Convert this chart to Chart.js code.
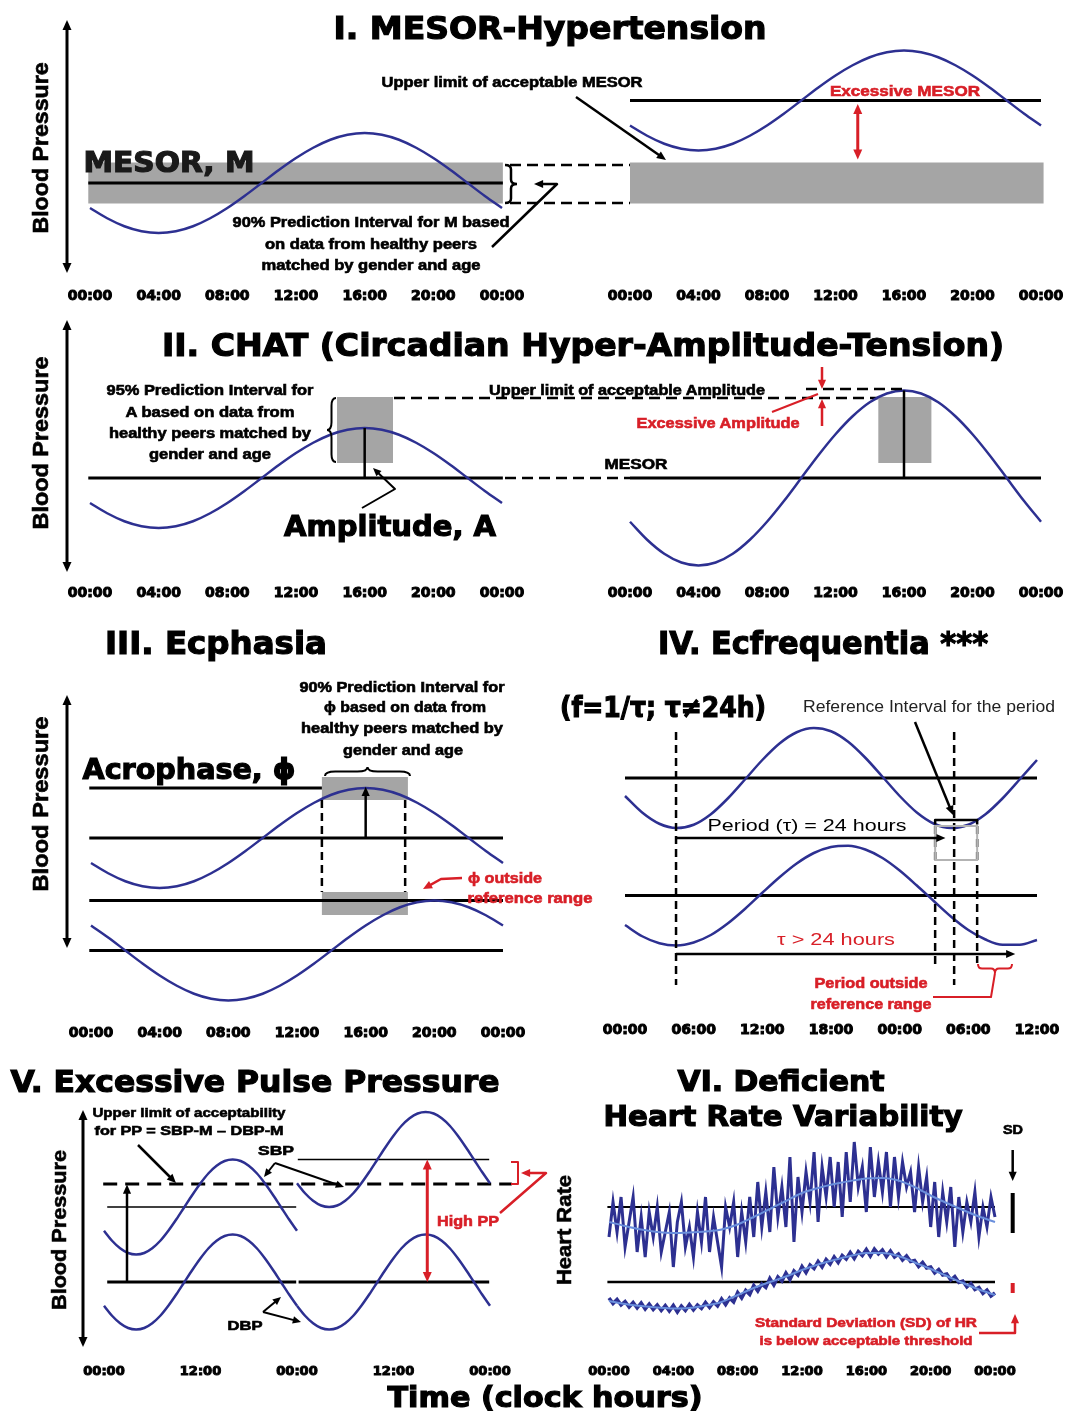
<!DOCTYPE html>
<html>
<head>
<meta charset="utf-8">
<title>Chronobiologic risk patterns</title>
<script src="https://cdn.jsdelivr.net/npm/chart.js@4.4.1/dist/chart.umd.min.js"></script>
<style>
  body { margin: 0; background: #fff; }
  #page { position: relative; width: 1068px; height: 1416px; overflow: hidden; background: #fff; }
  #page canvas { position: absolute; left: 0; top: 0; }
  .t { position: absolute; white-space: nowrap; font-weight: bold; line-height: 1; color: #000; }
</style>
</head>
<body>
<div id="page"></div>
<script>
// time grids, clock hours
const hours = [0, 1, 2, 3, 4, 5, 6, 7, 8, 9, 10, 11, 12, 13, 14, 15, 16, 17, 18, 19, 20, 21, 22, 23, 24];
const hoursDay2 = [24, 25, 26, 27, 28, 29, 30, 31, 32, 33, 34, 35, 36, 37, 38, 39, 40, 41, 42, 43, 44, 45, 46, 47, 48];
const hours36 = [0, 1.5, 3, 4.5, 6, 7.5, 9, 10.5, 12, 13.5, 15, 16.5, 18, 19.5, 21, 22.5, 24, 25.5, 27, 28.5, 30, 31.5, 33, 34.5, 36];
const quarterHours = Array.from({ length: 97 }, (_, i) => i / 4);

// I. MESOR-hypertension (mmHg)
const mesorOk = [110, 105.9, 102.7, 100.7, 100, 100.7, 102.7, 105.9, 110, 114.8, 120, 125.2, 130, 134.1, 137.3, 139.3, 140, 139.3, 137.3, 134.1, 130, 125.2, 120, 114.8, 110];
const mesorHigh = [143, 138.9, 135.7, 133.7, 133, 133.7, 135.7, 138.9, 143, 147.8, 153, 158.2, 163, 167.1, 170.3, 172.3, 173, 172.3, 170.3, 167.1, 163, 158.2, 153, 147.8, 143];
const mesorLevel = 120, mesorLimit = 153;
const mesorBand = [111.8, 128.2];

// II. CHAT
const ampOk = [110, 105.9, 102.7, 100.7, 100, 100.7, 102.7, 105.9, 110, 114.8, 120, 125.2, 130, 134.1, 137.3, 139.3, 140, 139.3, 137.3, 134.1, 130, 125.2, 120, 114.8, 110];
const ampHigh = [102.5, 95.3, 89.7, 86.2, 85, 86.2, 89.7, 95.3, 102.5, 110.9, 120, 129.1, 137.5, 144.7, 150.3, 153.8, 155, 153.8, 150.3, 144.7, 137.5, 129.1, 120, 110.9, 102.5];
const ampBand = [126, 152.4];

// III. Ecphasia
const phaseOk = [110, 105.9, 102.7, 100.7, 100, 100.7, 102.7, 105.9, 110, 114.8, 120, 125.2, 130, 134.1, 137.3, 139.3, 140, 139.3, 137.3, 134.1, 130, 125.2, 120, 114.8, 110];
const phaseLate = [85, 80.2, 75, 69.8, 65, 60.9, 57.7, 55.7, 55, 55.7, 57.7, 60.9, 65, 69.8, 75, 80.2, 85, 89.1, 92.3, 94.3, 95, 94.3, 92.3, 89.1, 85];
const phaseLevels = [140, 120, 95, 75];
const phaseWindow = [13.45, 18.46];

// IV. Ecfrequentia
const tau24 = [112.8, 106.2, 101.7, 100.0, 101.3, 105.5, 111.9, 119.5, 127.2, 133.8, 138.3, 140.0, 138.7, 134.5, 128.1, 120.5, 112.8, 106.2, 101.7, 100.0, 101.3, 105.5, 111.9, 119.5, 127.2];
const tauLong = [61.2, 56.7, 53.9, 53.0, 54.2, 57.2, 61.9, 67.7, 74.1, 80.3, 85.8, 90.0, 92.4, 92.9, 91.4, 88.0, 83.0, 77.0, 70.7, 64.5, 59.2, 55.4, 53.3, 53.3, 55.2];
const tauLevels = [120, 73];
const tauWindow = [27.1, 30.77];

// V. Excessive pulse pressure
const sbpOk = [110.5, 106.5, 103.5, 101.6, 101, 101.6, 103.5, 106.5, 110.5, 115.1, 120, 124.9, 129.5, 133.5, 136.5, 138.4, 139, 138.4, 136.5, 133.5, 129.5, 124.9, 120, 115.1, 110.5];
const dbpOk = [80.5, 76.5, 73.5, 71.6, 71, 71.6, 73.5, 76.5, 80.5, 85.1, 90, 94.9, 99.5, 103.5, 106.5, 108.4, 109, 108.4, 106.5, 103.5, 99.5, 94.9, 90, 85.1, 80.5];
const sbpHigh = [129.5, 125.5, 122.5, 120.6, 120, 120.6, 122.5, 125.5, 129.5, 134.1, 139, 143.9, 148.5, 152.5, 155.5, 157.4, 158, 157.4, 155.5, 152.5, 148.5, 143.9, 139, 134.1, 129.5];
const dbpHigh = [80.5, 76.5, 73.5, 71.6, 71, 71.6, 73.5, 76.5, 80.5, 85.1, 90, 94.9, 99.5, 103.5, 106.5, 108.4, 109, 108.4, 106.5, 103.5, 99.5, 94.9, 90, 85.1, 80.5];
const ppLimit = 129.2;

// VI. Heart rate (beats/min)
const hrNormal = [74, 81, 75, 82, 72, 77, 82, 71, 78, 70, 79, 74, 80, 71, 75, 79, 68, 77, 81, 72, 76, 70, 79, 73,
  82, 71, 78, 73, 68, 80, 76, 81, 70, 79, 73, 82, 74, 85, 76, 83, 75, 88, 78, 84, 76, 90, 73, 86,
  79, 87, 81, 91, 77, 88, 82, 90, 80, 89, 78, 91, 81, 93, 84, 88, 79, 92, 82, 89, 83, 91, 80, 90,
  82, 89, 84, 87, 79, 88, 81, 86, 76, 85, 74, 83, 77, 84, 72, 82, 75, 81, 77, 83, 74, 80, 76, 82, 78];
const hrLow = [61.8, 60.7, 61.5, 60.4, 61.1, 60.0, 60.9, 59.8, 60.8, 59.6, 60.6, 59.5, 60.4, 59.3, 60.3, 59.2,
  60.3, 59.0, 60.2, 59.3, 60.5, 59.4, 60.4, 59.7, 60.9, 59.9, 61.0, 60.2, 61.6, 60.5, 61.8, 61.0,
  62.9, 61.8, 63.3, 62.5, 64.3, 63.2, 64.6, 63.9, 65.7, 64.4, 66.0, 65.2, 66.8, 65.5, 67.2, 66.4,
  68.1, 66.9, 68.4, 67.7, 69.1, 68.0, 69.5, 68.6, 70.0, 68.9, 70.3, 69.6, 70.9, 69.7, 71.1, 70.3,
  71.5, 70.2, 71.6, 70.6, 71.4, 70.1, 71.2, 70.0, 70.6, 69.4, 70.2, 69.1, 69.3, 68.1, 68.9, 67.8,
  68.0, 66.8, 67.5, 66.4, 66.6, 65.4, 66.1, 64.9, 65.2, 64.0, 64.7, 63.5, 63.9, 62.7, 63.4, 62.2, 62.8];
const hrNormalTrend = [77.0, 76.2, 75.5, 75.0, 74.8, 74.9, 75.1, 75.5, 76.5, 78.0, 79.6, 81.2, 82.8, 83.8, 84.6, 85.2, 85.7, 85.8, 85.3, 84.0, 82.3, 80.8, 79.4, 78.1, 77.0];
const hrLowTrend = [61.2, 60.6, 60.2, 59.9, 59.7, 59.8, 60.3, 61.0, 62.4, 63.8, 65.0, 66.1, 67.4, 68.5, 69.4, 70.2, 70.8, 70.8, 70.2, 68.9, 67.6, 66.2, 64.8, 63.5, 62.4];
const hrLevels = [80, 65];
const sdNormal = [74.8, 82.8], sdLow = [62.8, 64.8];

const W = 1068, H = 1416;
const page = document.getElementById('page');
const NAVY = '#2d3091', RED = '#d81f27', BAND = '#a5a5a5', TREND = '#6a8fdc';
const TITLE = '"DejaVu Sans", sans-serif';
const NOTE = '"Liberation Sans", Arial, sans-serif';

const pairs = (xs, ys) => xs.map((x, i) => ({ x: x, y: ys[i] }));
const clock = v => String(((v % 24) + 24) % 24).padStart(2, '0') + ':00';

function curve(xs, ys, color, width, extra) {
  return Object.assign({
    data: pairs(xs, ys), borderColor: color, borderWidth: width, pointRadius: 0,
    cubicInterpolationMode: 'monotone', fill: false, clip: false
  }, extra || {});
}
function level(t0, t1, v, width, extra) { return curve([t0, t1], [v, v], '#000', width, extra); }

// drawing helpers for the annotations
function P(c, t, v) { return [c.scales.x.getPixelForValue(t), c.scales.y.getPixelForValue(v)]; }
function stroke(ctx, pts, color, width, dash) {
  ctx.save();
  ctx.beginPath();
  ctx.strokeStyle = color; ctx.lineWidth = width; ctx.lineJoin = 'round';
  ctx.setLineDash(dash || []);
  pts.forEach((p, i) => i ? ctx.lineTo(p[0], p[1]) : ctx.moveTo(p[0], p[1]));
  ctx.stroke();
  ctx.restore();
}
function head(ctx, from, to, color, size) {
  const a = Math.atan2(to[1] - from[1], to[0] - from[0]);
  ctx.save();
  ctx.beginPath();
  ctx.moveTo(to[0], to[1]);
  ctx.lineTo(to[0] - size * Math.cos(a - 0.42), to[1] - size * Math.sin(a - 0.42));
  ctx.lineTo(to[0] - size * Math.cos(a + 0.42), to[1] - size * Math.sin(a + 0.42));
  ctx.closePath();
  ctx.fillStyle = color; ctx.fill();
  ctx.restore();
}
function pull(from, to, d) {
  const L = Math.hypot(to[0] - from[0], to[1] - from[1]);
  return [to[0] - (to[0] - from[0]) * d / L, to[1] - (to[1] - from[1]) * d / L];
}
function arrow(ctx, pts, color, width, both) {
  const n = pts.length, s = 5 + width * 2;
  const line = pts.slice();
  line[n - 1] = pull(pts[n - 2], pts[n - 1], s * 0.6);
  if (both) line[0] = pull(pts[1], pts[0], s * 0.6);
  stroke(ctx, line, color, width);
  head(ctx, pts[n - 2], pts[n - 1], color, s);
  if (both) head(ctx, pts[1], pts[0], color, s);
}
function box(ctx, a, b, color) {
  ctx.fillStyle = color;
  ctx.fillRect(Math.min(a[0], b[0]), Math.min(a[1], b[1]), Math.abs(b[0] - a[0]), Math.abs(b[1] - a[1]));
}
function brace(ctx, a, b, d, color, width) {
  const dx = b[0] - a[0], dy = b[1] - a[1];
  const L = Math.hypot(dx, dy), ux = dx / L, uy = dy / L;
  const q = (f, m) => [a[0] + dx * f - uy * d * m, a[1] + dy * f + ux * d * m];
  const quad = (c, e) => ctx.quadraticCurveTo(c[0], c[1], e[0], e[1]);
  ctx.save();
  ctx.beginPath();
  ctx.strokeStyle = color; ctx.lineWidth = width;
  ctx.moveTo(a[0], a[1]);
  quad(q(0, 0.5), q(0.12, 0.5));
  ctx.lineTo(...q(0.38, 0.5));
  quad(q(0.5, 0.5), q(0.5, 1));
  quad(q(0.5, 0.5), q(0.62, 0.5));
  ctx.lineTo(...q(0.88, 0.5));
  quad(q(1, 0.5), q(1, 0));
  ctx.stroke();
  ctx.restore();
}

function makeChart(o) {
  const cv = document.createElement('canvas');
  cv.width = W; cv.height = H;
  page.appendChild(cv);
  const size = o.tickSize || 14;
  const bottom = o.labelY - size * 0.6;
  const k = o.k || 2.5;
  const yMax = o.ref[0] + (o.ref[1] - o.top) / k;
  const yMin = o.ref[0] - (bottom - o.ref[1]) / k;
  return new Chart(cv, {
    type: 'line',
    data: { datasets: o.datasets },
    options: {
      responsive: false, animation: false, devicePixelRatio: 1, events: [],
      layout: { padding: { left: o.x0, right: W - o.x1, top: o.top, bottom: H - bottom - 30 } },
      plugins: { legend: { display: false }, tooltip: { enabled: false } },
      scales: {
        x: {
          type: 'linear', min: o.t[0], max: o.t[1],
          grid: { display: false, drawTicks: false }, border: { display: false },
          afterFit: s => { s.height = 30; },
          ticks: {
            stepSize: o.t[2], padding: 0, autoSkip: false, maxRotation: 0, color: '#000',
            textStrokeColor: '#000', textStrokeWidth: 1,
            font: { family: TITLE, weight: 'bold', size: size }, callback: v => clock(v)
          }
        },
        y: { display: false, min: yMin, max: yMax }
      }
    },
    plugins: [{
      id: 'sketch',
      beforeDatasetsDraw(c) { if (o.under) o.under(c, c.ctx); },
      afterDatasetsDraw(c) { if (o.draw) o.draw(c, c.ctx); }
    }]
  });
}

// ---------- I. MESOR-Hypertension ----------
makeChart({
  x0: 90, x1: 502, labelY: 296, top: 20, ref: [120, 183], t: [0, 24, 4],
  datasets: [
    curve(hours, mesorOk, NAVY, 2.5),
    level(-0.1, 24.05, mesorLevel, 3)
  ],
  under(c, ctx) { box(ctx, P(c, -0.1, mesorBand[1]), P(c, 24.05, mesorBand[0]), BAND); },
  draw(c, ctx) {
    arrow(ctx, [[67, 273], [67, 20]], '#000', 3, true);
    brace(ctx, [505, 165], [505, 203], -12, '#000', 2.5);
    stroke(ctx, [[510, 165], [630, 165]], '#000', 2.5, [11, 6]);
    stroke(ctx, [[510, 203], [630, 203]], '#000', 2.5, [11, 6]);
    arrow(ctx, [[492, 247], [557, 184], [534, 184]], '#000', 2.5);
  }
});
makeChart({
  x0: 630, x1: 1041, labelY: 296, top: 20, ref: [120, 183], t: [0, 24, 4],
  datasets: [
    curve(hours, mesorHigh, NAVY, 2.5),
    level(0, 24, mesorLimit, 3)
  ],
  under(c, ctx) { box(ctx, P(c, 0, mesorBand[1]), P(c, 24.15, mesorBand[0]), BAND); },
  draw(c, ctx) {
    arrow(ctx, [P(c, 13.3, 151.6), P(c, 13.3, 129.4)], RED, 3, true);
    arrow(ctx, [[576, 97], [666, 160]], '#000', 2.5);
  }
});

// ---------- II. CHAT ----------
makeChart({
  x0: 90, x1: 502, labelY: 593, top: 318, ref: [120, 478], t: [0, 24, 4],
  datasets: [
    curve(hours, ampOk, NAVY, 2.5),
    level(-0.1, 24.05, 120, 3)
  ],
  under(c, ctx) { box(ctx, P(c, 14.39, ampBand[1]), P(c, 17.65, ampBand[0]), BAND); },
  draw(c, ctx) {
    arrow(ctx, [[67, 572], [67, 320]], '#000', 3, true);
    stroke(ctx, [P(c, 16, 140), P(c, 16, 120)], '#000', 2.5);
    arrow(ctx, [[362, 508], [395, 489], [373, 468]], '#000', 2);
    brace(ctx, [336, 398], [336, 462], 9, '#000', 2);
    stroke(ctx, [[394, 398], [878, 398]], '#000', 2.5, [11, 6]);
    stroke(ctx, [[505, 478], [630, 478]], '#000', 2.5, [11, 6]);
  }
});
makeChart({
  x0: 630, x1: 1041, labelY: 593, top: 318, ref: [120, 478], t: [0, 24, 4],
  datasets: [
    curve(hours, ampHigh, NAVY, 2.5),
    level(0, 24, 120, 3)
  ],
  under(c, ctx) { box(ctx, P(c, 14.5, ampBand[1]), P(c, 17.6, ampBand[0]), BAND); },
  draw(c, ctx) {
    stroke(ctx, [P(c, 16, 155), P(c, 16, 120)], '#000', 2.5);
    stroke(ctx, [[806, 389], [907, 389]], '#000', 2.5, [11, 6]);
    arrow(ctx, [[822, 367], [822, 389]], RED, 2.5);
    arrow(ctx, [[822, 426], [822, 399]], RED, 2.5);
    stroke(ctx, [[772, 412], [818, 394]], RED, 2);
  }
});

// ---------- III. Ecphasia ----------
makeChart({
  x0: 91, x1: 503, labelY: 1033, top: 690, ref: [120, 838], t: [0, 24, 4],
  datasets: [
    curve(hours, phaseOk, NAVY, 2.5),
    curve(hours, phaseLate, NAVY, 2.5),
    level(-0.1, phaseWindow[0], phaseLevels[0], 3),
    level(-0.1, 24, phaseLevels[1], 3),
    level(-0.1, 24, phaseLevels[2], 3),
    level(-0.1, 24, phaseLevels[3], 3)
  ],
  under(c, ctx) {
    box(ctx, P(c, phaseWindow[0], 144.4), P(c, phaseWindow[1], 135.2), BAND);
    box(ctx, P(c, phaseWindow[0], 98.4), P(c, phaseWindow[1], 89.2), BAND);
  },
  draw(c, ctx) {
    arrow(ctx, [[67, 948], [67, 695]], '#000', 3, true);
    arrow(ctx, [P(c, 16, 120), P(c, 16, 140.5)], '#000', 2.5);
    stroke(ctx, [P(c, phaseWindow[0], 135.2), P(c, phaseWindow[0], 98.4)], '#000', 2.5, [8, 5]);
    stroke(ctx, [P(c, 18.3, 135.2), P(c, 18.3, 98.4)], '#000', 2.5, [8, 5]);
    brace(ctx, [325, 776], [410, 776], -9, '#000', 2);
    arrow(ctx, [[462, 878], [441, 879], [423, 889]], RED, 2.5);
  }
});

// ---------- IV. Ecfrequentia ----------
makeChart({
  x0: 625, x1: 1037, labelY: 1030, top: 720, ref: [120, 778], t: [0, 36, 6],
  datasets: [
    curve(hours36, tau24, NAVY, 2.5),
    curve(hours36, tauLong, NAVY, 2.5),
    level(0, 36, tauLevels[0], 3),
    level(0, 36, tauLevels[1], 3)
  ],
  draw(c, ctx) {
    const dash = [8, 5];
    stroke(ctx, [P(c, 4.46, 138.4), P(c, 4.46, 37.2)], '#000', 2.5, dash);
    stroke(ctx, [P(c, 28.76, 138.4), P(c, 28.76, 37.2)], '#000', 2.5, dash);
    stroke(ctx, [P(c, tauWindow[0], 100.8), P(c, tauWindow[0], 44)], '#000', 2.5, dash);
    stroke(ctx, [P(c, tauWindow[1], 100.8), P(c, tauWindow[1], 46)], '#000', 2.5, dash);
    const a = P(c, tauWindow[0], 100.8), b = P(c, tauWindow[1], 87.2);
    ctx.save(); ctx.strokeStyle = '#b3b3b3'; ctx.lineWidth = 2;
    ctx.strokeRect(a[0], a[1], b[0] - a[0], b[1] - a[1]); ctx.restore();
    stroke(ctx, [P(c, tauWindow[0], 101.4), P(c, tauWindow[0], 103.2), P(c, tauWindow[1], 103.2), P(c, tauWindow[1], 101.4)], '#000', 2.5);
    arrow(ctx, [P(c, 4.46, 96), P(c, 28, 96)], '#000', 2.5);
    arrow(ctx, [P(c, 4.46, 49.6), P(c, 34.1, 49.6)], '#000', 2.5);
    arrow(ctx, [[915, 722], [953, 815]], '#000', 2.5);
    brace(ctx, [978, 964], [1012, 964], 9, RED, 2);
    stroke(ctx, [[995, 973], [991, 997], [933, 997]], RED, 2);
  }
});

// ---------- V. Excessive Pulse Pressure ----------
makeChart({
  x0: 104, x1: 490, labelY: 1372, top: 1100, ref: [120, 1207], t: [0, 48, 12], tickSize: 13,
  datasets: [
    curve(hours, sbpOk, NAVY, 2.5),
    curve(hours, dbpOk, NAVY, 2.5),
    curve(hoursDay2, sbpHigh, NAVY, 2.5),
    curve(hoursDay2, dbpHigh, NAVY, 2.5),
    level(-0.1, 50.7, ppLimit, 3, { borderDash: [14, 8] }),
    level(0.4, 23.9, 120, 1.5),
    level(24.1, 47.9, 139, 1.5),
    level(0.4, 23.9, 90, 3),
    level(24.2, 47.9, 90, 3)
  ],
  draw(c, ctx) {
    arrow(ctx, [[83, 1347], [83, 1110]], '#000', 3, true);
    arrow(ctx, [P(c, 2.86, 90), P(c, 2.86, 129)], '#000', 2.5);
    arrow(ctx, [P(c, 40.2, 139), P(c, 40.2, 90)], RED, 3, true);
    arrow(ctx, [[138, 1145], [176, 1183]], '#000', 2.5);
    arrow(ctx, [[275, 1163], [264, 1177]], '#000', 2);
    arrow(ctx, [[275, 1163], [344, 1187]], '#000', 2);
    arrow(ctx, [[263, 1312], [281, 1297]], '#000', 2);
    arrow(ctx, [[263, 1312], [301, 1322]], '#000', 2);
    stroke(ctx, [[511, 1162], [518, 1162], [518, 1184], [511, 1184]], RED, 2);
    arrow(ctx, [[500, 1213], [546, 1173], [521, 1173]], RED, 2.5);
  }
});

// ---------- VI. Deficient Heart Rate Variability ----------
makeChart({
  x0: 609, x1: 995, labelY: 1372, top: 1150, ref: [80, 1207], k: 5, t: [0, 24, 4], tickSize: 13,
  datasets: [
    curve(hours, hrNormalTrend, TREND, 2),
    curve(hours, hrLowTrend, TREND, 2),
    curve(quarterHours, hrNormal, NAVY, 3, { cubicInterpolationMode: 'default', tension: 0 }),
    curve(quarterHours, hrLow, NAVY, 3.5, { cubicInterpolationMode: 'default', tension: 0 }),
    level(-0.1, 24, hrLevels[0], 2),
    level(-0.1, 24, hrLevels[1], 2.5)
  ],
  draw(c, ctx) {
    arrow(ctx, [P(c, 25.1, 91.4), P(c, 25.1, 85.2)], '#000', 2.5);
    stroke(ctx, [P(c, 25.1, sdNormal[1]), P(c, 25.1, sdNormal[0])], '#000', 4);
    stroke(ctx, [P(c, 25.1, sdLow[1]), P(c, 25.1, sdLow[0])], RED, 4);
    arrow(ctx, [[979, 1333], [1015, 1333], [1015, 1314]], RED, 2.5);
  }
});

// ---------- text ----------
function label(s, x, y, size, w, o) {
  o = o || {};
  const el = document.createElement('div');
  el.className = 't';
  el.textContent = s;
  el.style.fontSize = size + 'px';
  el.style.fontFamily = o.f || NOTE;
  if (o.color) el.style.color = o.color;
  if (o.normal) el.style.fontWeight = 'normal';
  else el.style.webkitTextStroke = (size >= 26 ? 1.2 : 0.6) + 'px ' + (o.color || '#000');
  page.appendChild(el);
  const nat = el.getBoundingClientRect().width;
  el.style.left = x + 'px';
  el.style.top = y + 'px';
  el.style.transform = 'translate(-50%,-50%)' + (o.rot ? ' rotate(-90deg)' : '') + ' scaleX(' + (w / nat).toFixed(3) + ')';
}

const texts = [
  ['I. MESOR-Hypertension', 550, 28, 32, 433, { f: TITLE }],
  ['Blood Pressure', 41, 148, 22, 171, { rot: true }],
  ['MESOR, M', 169, 163, 28, 171, { f: TITLE, color: '#1a1a1a' }],
  ['Upper limit of acceptable MESOR', 512, 82, 14, 261],
  ['Excessive MESOR', 905, 90, 15, 150, { color: RED }],
  ['90% Prediction Interval for M based', 371, 222, 14, 277],
  ['on data from healthy peers', 371, 244, 14, 212],
  ['matched by gender and age', 371, 265, 14, 219],

  ['II. CHAT (Circadian Hyper-Amplitude-Tension)', 583, 345, 32, 842, { f: TITLE }],
  ['Blood Pressure', 41, 443, 22, 173, { rot: true }],
  ['95% Prediction Interval for', 210, 390, 14, 207],
  ['A based on data from', 210, 412, 14, 169],
  ['healthy peers matched by', 210, 433, 14, 202],
  ['gender and age', 210, 454, 14, 122],
  ['Upper limit of acceptable Amplitude', 627, 390, 14, 276],
  ['Excessive Amplitude', 718, 422, 15, 163, { color: RED }],
  ['MESOR', 636, 464, 14, 63],
  ['Amplitude, A', 390, 527, 28, 212, { f: TITLE }],

  ['III. Ecphasia', 216, 643, 32, 222, { f: TITLE }],
  ['Blood Pressure', 41, 804, 22, 175, { rot: true }],
  ['90% Prediction Interval for', 402, 687, 14, 205],
  ['ϕ based on data from', 405, 707, 14, 162],
  ['healthy peers matched by', 402, 728, 14, 202],
  ['gender and age', 403, 750, 14, 120],
  ['Acrophase, ϕ', 189, 770, 28, 213, { f: TITLE }],
  ['ϕ outside', 505, 877, 15, 74, { color: RED }],
  ['reference range', 530, 897, 15, 125, { color: RED }],

  ['IV. Ecfrequentia ***', 823, 643, 32, 330, { f: TITLE }],
  ['(f=1/τ; τ≠24h)', 663, 708, 28, 206, { f: TITLE }],
  ['Reference Interval for the period', 929, 707, 16, 252, { normal: true, color: '#222' }],
  ['Period (τ) = 24 hours', 807, 825, 17, 199, { normal: true }],
  ['τ > 24 hours', 836, 939, 17, 118, { normal: true, color: RED }],
  ['Period outside', 871, 982, 15, 113, { color: RED }],
  ['reference range', 871, 1003, 15, 121, { color: RED }],

  ['V. Excessive Pulse Pressure', 255, 1082, 30, 489, { f: TITLE }],
  ['Blood Pressure', 59, 1230, 20, 160, { rot: true }],
  ['Upper limit of acceptability', 189, 1112, 13, 193],
  ['for PP = SBP-M – DBP-M', 189, 1130, 13, 189],
  ['SBP', 276, 1150, 13, 36],
  ['DBP', 245, 1325, 13, 35],
  ['High PP', 468, 1220, 15, 62, { color: RED }],

  ['VI. Deficient', 781, 1082, 28, 207, { f: TITLE }],
  ['Heart Rate Variability', 783, 1117, 28, 359, { f: TITLE }],
  ['Heart Rate', 564, 1230, 20, 110, { rot: true }],
  ['SD', 1013, 1130, 12, 20],
  ['Standard Deviation (SD) of HR', 866, 1322, 13, 222, { color: RED }],
  ['is below acceptable threshold', 866, 1340, 13, 213, { color: RED }],
  ['Time (clock hours)', 545, 1398, 28, 315, { f: TITLE }]
];
texts.forEach(t => label(t[0], t[1], t[2], t[3], t[4], t[5]));
</script>
</body>
</html>
